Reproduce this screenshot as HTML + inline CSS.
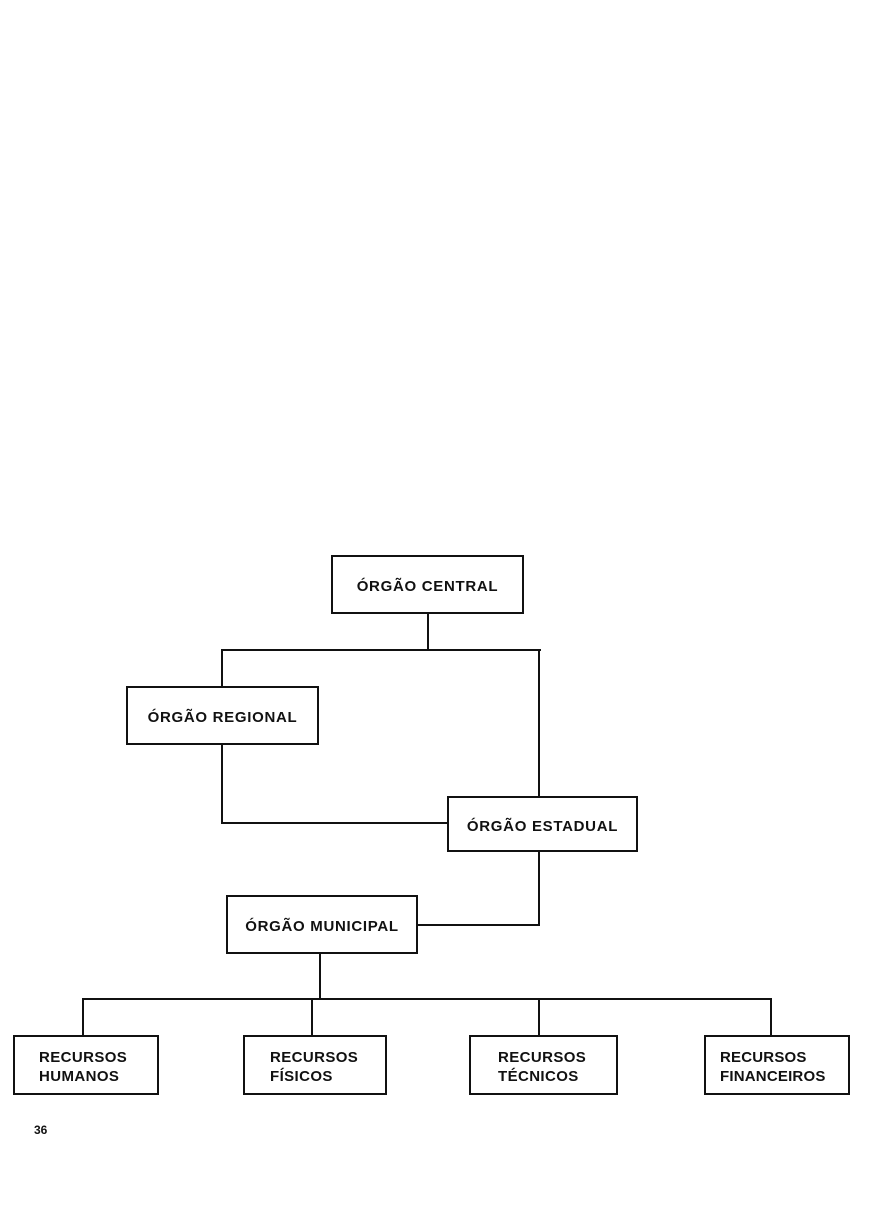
<!DOCTYPE html>
<html><head><style>
body{margin:0;width:871px;height:1223px;background:#fff;position:relative;overflow:hidden;font-family:"Liberation Sans",Arial,sans-serif;}
.b{position:absolute;border:2px solid #111;box-sizing:border-box;background:#fff;font-weight:bold;font-size:15px;letter-spacing:0.7px;color:#111;display:flex;align-items:center;justify-content:center;line-height:19px;padding-top:4px;}
.l{position:absolute;background:#111;}
</style></head><body>
<div class="l" style="left:427px;top:613px;width:2px;height:38px"></div>
<div class="l" style="left:221px;top:649px;width:320px;height:2px"></div>
<div class="l" style="left:221px;top:649px;width:2px;height:38px"></div>
<div class="l" style="left:538px;top:649px;width:2px;height:148px"></div>
<div class="l" style="left:221px;top:744px;width:2px;height:80px"></div>
<div class="l" style="left:221px;top:822px;width:227px;height:2px"></div>
<div class="l" style="left:538px;top:851px;width:2px;height:75px"></div>
<div class="l" style="left:416px;top:924px;width:124px;height:2px"></div>
<div class="l" style="left:319px;top:953px;width:2px;height:47px"></div>
<div class="l" style="left:82px;top:998px;width:690px;height:2px"></div>
<div class="l" style="left:82px;top:998px;width:2px;height:38px"></div>
<div class="l" style="left:311px;top:998px;width:2px;height:38px"></div>
<div class="l" style="left:538px;top:998px;width:2px;height:38px"></div>
<div class="l" style="left:770px;top:998px;width:2px;height:38px"></div>
<div class="b" style="left:331px;top:555px;width:193px;height:59px">ÓRGÃO CENTRAL</div>
<div class="b" style="left:126px;top:686px;width:193px;height:59px">ÓRGÃO REGIONAL</div>
<div class="b" style="left:447px;top:796px;width:191px;height:56px">ÓRGÃO ESTADUAL</div>
<div class="b" style="left:226px;top:895px;width:192px;height:59px">ÓRGÃO MUNICIPAL</div>
<div class="b" style="left:13px;top:1035px;width:146px;height:60px;justify-content:flex-start;padding-left:24px;letter-spacing:0.4px">RECURSOS<br>HUMANOS</div>
<div class="b" style="left:243px;top:1035px;width:144px;height:60px;justify-content:flex-start;padding-left:25px;letter-spacing:0.4px">RECURSOS<br>FÍSICOS</div>
<div class="b" style="left:469px;top:1035px;width:149px;height:60px;justify-content:flex-start;padding-left:27px;letter-spacing:0.4px">RECURSOS<br>TÉCNICOS</div>
<div class="b" style="left:704px;top:1035px;width:146px;height:60px;justify-content:flex-start;padding-left:14px;letter-spacing:0.2px">RECURSOS<br>FINANCEIROS</div>
<div style="position:absolute;left:34px;top:1123px;font-weight:bold;font-size:12px;color:#111">36</div>
</body></html>
